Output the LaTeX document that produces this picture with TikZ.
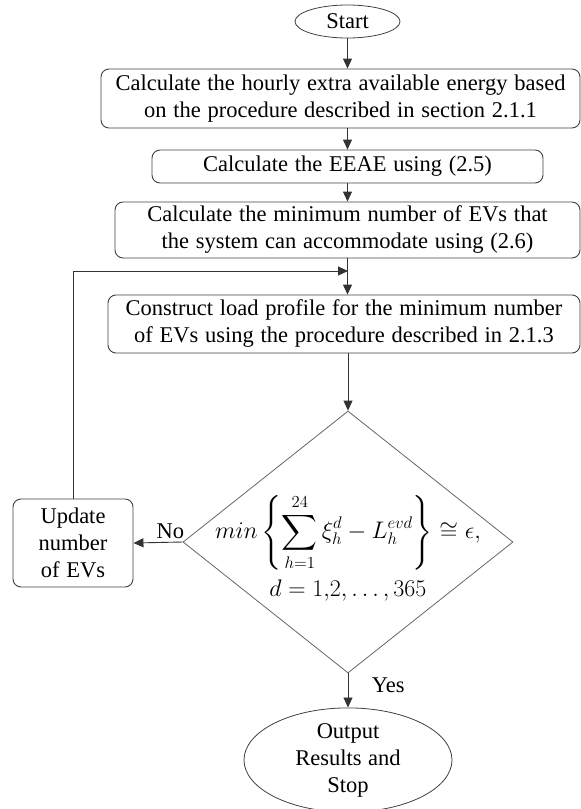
\RequirePackage{fix-cm}
\documentclass[tikz,border=0pt]{standalone}
\usepackage{amsmath}
\usepackage{fontspec}
\setmainfont[WordSpace=1.2]{Liberation Serif}
\usetikzlibrary{shapes.geometric,arrows.meta}
\begin{document}
\begin{tikzpicture}[x=1pt,y=-1pt,
  every node/.style={font=\fontsize{22.5}{27}\selectfont, text=black},
  flowline/.style={draw=black!80, line width=0.9pt},
  arr/.style={flowline, -{Triangle[length=10pt,width=9pt]}},
  procbox/.style={draw=black!75, line width=0.9pt, rounded corners=8pt,
    rectangle, inner sep=0pt, align=center},
  terminal/.style={draw=black!75, line width=0.8pt, ellipse, inner sep=0pt, align=center},
  decision/.style={draw=black!60, line width=0.8pt, diamond, inner sep=0pt}
]
\useasboundingbox (0,0) rectangle (581,809);

% terminals
\node[terminal, minimum width=105pt, minimum height=33pt] (start) at (347.5,21.5) {Start};
\node[terminal, minimum width=208pt, minimum height=94pt] (out) at (348,760)
  {Output\\Results and\\Stop};

% process steps
\node[procbox, minimum width=479pt, minimum height=59pt] (b1) at (340.5,98.5)
  {Calculate the hourly extra available energy based\\on the procedure described in section 2.1.1};
\node[procbox, minimum width=391pt, minimum height=33pt] (b2) at (347.5,166.5)
  {Calculate the EEAE using (2.5)};
\node[procbox, minimum width=465pt, minimum height=56pt] (b3) at (347.5,230)
  {Calculate the minimum number of EVs that\\the system can accommodate using (2.6)};
\node[procbox, minimum width=472pt, minimum height=58pt] (b4) at (344,324)
  {Construct load profile for the minimum number\\of EVs using the procedure described in 2.1.3};
\node[procbox, minimum width=120pt, minimum height=88pt] (upd) at (73,543)
  {Update\\number\\of EVs};

% convergence test
\node[decision, minimum width=330pt, minimum height=262pt] (dia) at (348,542) {};
\node[align=center, inner sep=0pt, font=\fontsize{24}{28}\selectfont] (cond) at (348,548)
  {$\displaystyle min\left\{\sum_{h=1}^{24}\xi_h^d-L_h^{evd}\right\}\cong\epsilon,$\\[8pt]
   $d=1{,}2,\ldots,365$};

% join point of the loop back
\coordinate (join) at (348,271);

% connectors
\draw[arr] (start.south) -- (start.south |- b1.north);
\draw[arr] (b2.north |- b1.south) -- (b2.north);
\draw[arr] (b2.south) -- (b2.south |- b3.north);
\draw[arr] (b3.south) -- (b3.south |- b4.north);
\draw[arr] (dia.north |- b4.south) -- (dia.north);
\draw[arr] (upd.north) |- (join);
\draw[arr] (dia.west) -- node[pos=0.25, above, inner sep=3pt] {No} (upd.east);
\draw[arr] (dia.south) -- node[pos=0.35, anchor=west, xshift=20pt] {Yes} (out.north);
\end{tikzpicture}
\end{document}
